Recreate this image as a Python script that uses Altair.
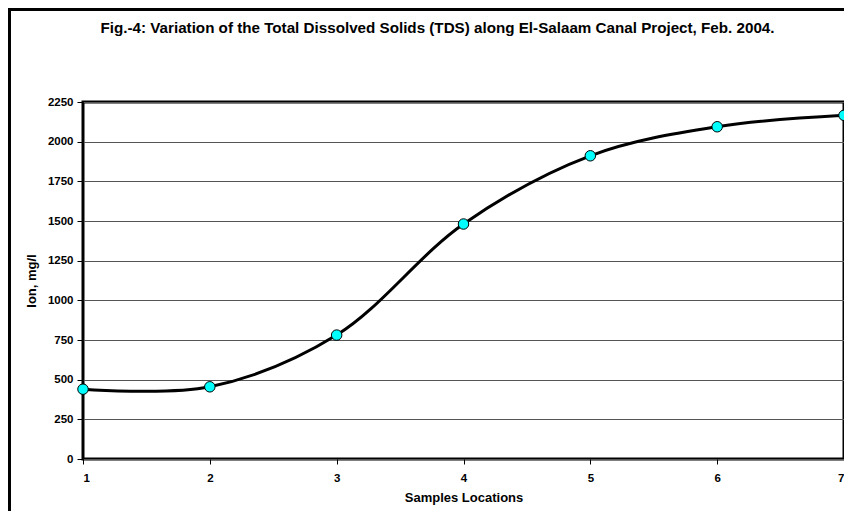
import altair as alt
import pandas as pd

locations = [1, 2, 3, 4, 5, 6, 7]
tds = [440, 455, 781, 1481, 1911, 2094, 2166]

df = pd.DataFrame({"loc": locations, "tds": tds})

FONT = "Liberation Sans"
W, H = 761, 357

x = alt.X("loc:Q", scale=alt.Scale(domain=[1, 7], nice=False),
          axis=alt.Axis(title="Samples Locations", values=locations, format="d",
                        grid=False, tickSize=5, tickColor="black", domain=False,
                        labelFont=FONT, labelFontWeight="bold", labelFontSize=11.5,
                        labelPadding=8, titleFont=FONT, titleFontWeight="bold",
                        titleFontSize=13, titlePadding=8, labelColor="black",
                        titleColor="black"))
y = alt.Y("tds:Q", scale=alt.Scale(domain=[0, 2250], nice=False),
          axis=alt.Axis(title="Ion, mg/l", values=list(range(0, 2251, 250)),
                        format="d",
                        grid=True, gridColor="#555555", gridWidth=1,
                        tickSize=6, tickColor="black", domain=False,
                        labelFont=FONT, labelFontWeight="bold", labelFontSize=11.5,
                        labelPadding=4, titleFont=FONT, titleFontWeight="bold",
                        titleFontSize=13, titlePadding=9, labelColor="black",
                        titleColor="black"))

line = alt.Chart(df).mark_line(color="black", strokeWidth=3,
                               interpolate="catmull-rom").encode(x=x, y=y)
pts = alt.Chart(df).mark_point(filled=True, shape="circle", size=110,
                               fill="#00FFFF", stroke="black", strokeWidth=1,
                               opacity=1, clip=False).encode(x=x, y=y)

frame_left = alt.Chart(df).mark_rule(color="black", strokeWidth=3, clip=False).encode(
    x=alt.value(-74), y=alt.value(-93), y2=alt.value(H + 70))
frame_top = alt.Chart(df).mark_rule(color="black", strokeWidth=3, clip=False).encode(
    x=alt.value(-75), x2=alt.value(W + 20), y=alt.value(-93))

chart = alt.layer(frame_left, frame_top, line, pts).properties(
    width=W, height=H,
    title=alt.TitleParams(
        "Fig.-4: Variation of the Total Dissolved Solids (TDS) along El-Salaam Canal Project, Feb. 2004.",
        font=FONT, fontSize=15.2, fontWeight="bold", color="black",
        anchor="middle", offset=-29, dx=-26),
    autosize=alt.AutoSizeParams(type="none"),
    padding={"left": 75, "top": 94, "right": 0, "bottom": 52},
    background="white",
).configure_view(stroke="black", strokeWidth=3)

chart.save("out.html", embed_options={"renderer": "svg", "actions": False})
